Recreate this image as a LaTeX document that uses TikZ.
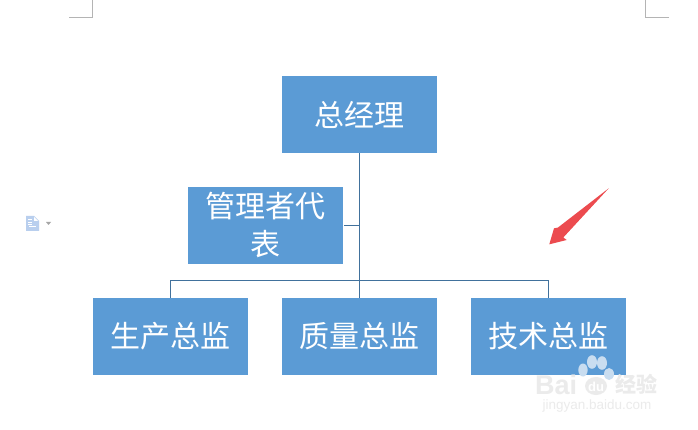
\documentclass[tikz,border=0pt]{standalone}
\usepackage{fontspec}
\setmainfont{Liberation Sans}
\newfontfamily\cjk{Noto Sans CJK SC}
\definecolor{boxblue}{HTML}{5B9BD5}
\definecolor{linkblue}{HTML}{41719C}
\definecolor{crop}{HTML}{B4B4B4}
\definecolor{arrowred}{HTML}{EC4B4F}
\definecolor{wm}{HTML}{EBEBEB}
\definecolor{paw}{HTML}{C9DDF0}
\definecolor{icon}{HTML}{B9CFEE}
\tikzset{
  orgbox/.style={fill=boxblue,draw=none,minimum width=155pt,minimum height=77pt,inner sep=0pt,text=white,align=center,text width=130pt,font=\cjk\fontsize{30}{38}\selectfont},
  link/.style={draw=linkblue,line width=1pt},
  cropline/.style={draw=crop,line width=0.8pt}
}
\begin{document}
\begin{tikzpicture}[x=1pt,y=-1pt]
\useasboundingbox (0,0) rectangle (698,430);
\fill[white] (0,0) rectangle (698,430);
% crop marks
\draw[cropline] (69,17) -- (92.5,17) -- (92.5,0);
\draw[cropline] (669,17) -- (645.5,17) -- (645.5,0);
% boxes
\node[orgbox] (gm) at (359.5,114.5) {总经理};
\node[orgbox] (rep) at (265.5,225.5) {管理者代\\表};
\node[orgbox] (prod) at (170.5,336.5) {生产总监};
\node[orgbox] (qual) at (359.5,336.5) {质量总监};
\node[orgbox] (tech) at (548.5,336.5) {技术总监};
% connectors
\coordinate (junction) at (gm.south |- 0,280.5);
\draw[link] (gm.south) -- (qual.north);
\draw[link,shorten <=1pt] (rep.east) -- (gm.south |- rep.east);
\draw[link] (prod.north) -- (prod.north |- junction) -- (tech.north |- junction) -- (tech.north);
% red arrow
\fill[arrowred] (608.7,188.3) -- (563.3,237.5) -- (566.7,240) -- (549.3,244.3) -- (554,228.3) -- (558,227.5) -- cycle;
% document icon
\fill[icon] (26,216) -- (34,216) -- (39,221) -- (39,231) -- (26,231) -- cycle;
\draw[white,line width=0.8pt] (28,219.5) -- (32,219.5) (28,222) -- (32,222) (28,224.5) -- (32,224.5) (29,226.5) -- (36,226.5);
\fill[white] (34,217) -- (38,221) -- (34,221) -- cycle;
\fill[gray!70] (46,222) -- (51,222) -- (48.5,225) -- cycle;
% watermark
\fill[paw] (583,370) ellipse (4.7pt and 6.5pt) (592,362) ellipse (5pt and 6.8pt) (602,363) ellipse (5pt and 6.8pt) (609,374) ellipse (5pt and 6pt);
\fill[wm] (596,386) ellipse (11pt and 9pt);
\node[text=wm,font=\bfseries\fontsize{27}{27}\selectfont,inner sep=0pt,anchor=west] (wmb) at (535,385) {Bai};
\node[text=white,font=\bfseries\fontsize{13}{13}\selectfont,inner sep=0pt] (wmd) at (596,387) {du};
\node[text=wm,font=\cjk\bfseries\fontsize{21}{21}\selectfont,inner sep=0pt,anchor=west] (wmj) at (615,384) {经验};
\node[text=wm,font=\fontsize{13.5}{14}\selectfont,inner sep=0pt] (wmu) at (597,406) {jingyan.baidu.com};
\end{tikzpicture}
\end{document}
